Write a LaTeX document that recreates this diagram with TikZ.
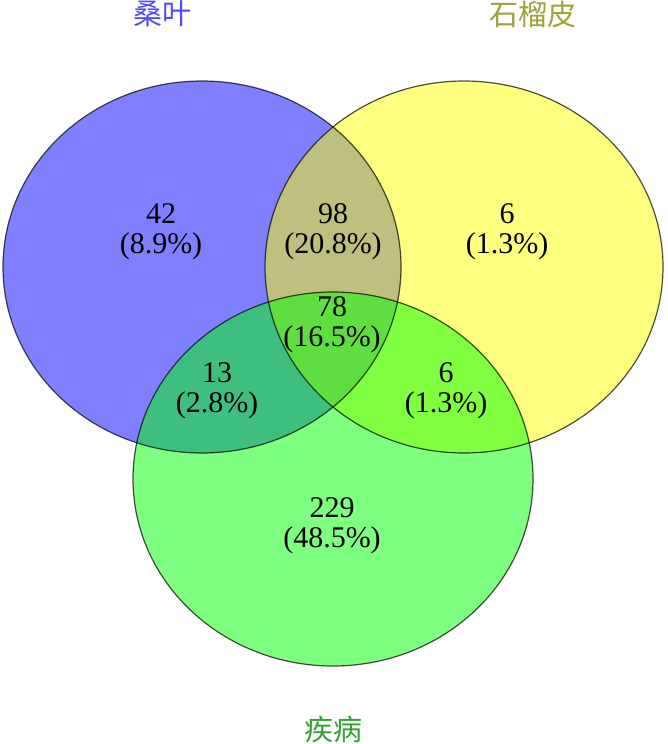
\documentclass[tikz,border=0pt]{standalone}
\usepackage{fontspec}
\setmainfont{Liberation Serif}
\newfontfamily\cjk{Noto Sans CJK SC}
\definecolor{setblue}{RGB}{0,0,255}
\definecolor{setyellow}{RGB}{255,255,0}
\definecolor{setgreen}{RGB}{0,255,0}
\definecolor{tblue}{RGB}{77,77,255}
\definecolor{tolive}{RGB}{160,160,64}
\definecolor{tgreen}{RGB}{56,160,56}
\tikzset{
  setfill/.style={fill=#1, fill opacity=0.5, draw=none},
  setline/.style={draw=black, draw opacity=0.7, line width=1.2pt},
  count/.style={align=center, font=\fontsize{30}{30}\selectfont, inner sep=0pt},
  title/.style={font=\cjk\fontsize{29}{29}\selectfont, inner sep=0pt}
}
\begin{document}
\begin{tikzpicture}[x=1pt,y=-1pt]
\useasboundingbox (0,0) rectangle (668,744);
% fills
\fill[setfill=setblue] (202,267) ellipse [x radius=199, y radius=186];
\fill[setfill=setyellow] (464,267) ellipse [x radius=199, y radius=186];
\fill[setfill=setgreen] (333,479) ellipse [x radius=200, y radius=187];
% outlines
\draw[setline] (202,267) ellipse [x radius=199, y radius=186];
\draw[setline] (464,267) ellipse [x radius=199, y radius=186];
\draw[setline] (333,479) ellipse [x radius=200, y radius=187];
% counts
\node[count] (a) at (161,232) {42\\(8.9\%)};
\node[count] (ab) at (333,232) {98\\(20.8\%)};
\node[count] (b) at (507,232) {6\\(1.3\%)};
\node[count] (abc) at (332,325) {78\\(16.5\%)};
\node[count] (ac) at (217,391) {13\\(2.8\%)};
\node[count] (bc) at (446,391) {6\\(1.3\%)};
\node[count] (c) at (332,526) {229\\(48.5\%)};
% titles
\node[title, text=tblue] (ta) at (162,14) {桑叶};
\node[title, text=tolive] (tb) at (533,14) {石榴皮};
\node[title, text=tgreen] (tc) at (333,729) {疾病};
\end{tikzpicture}
\end{document}
